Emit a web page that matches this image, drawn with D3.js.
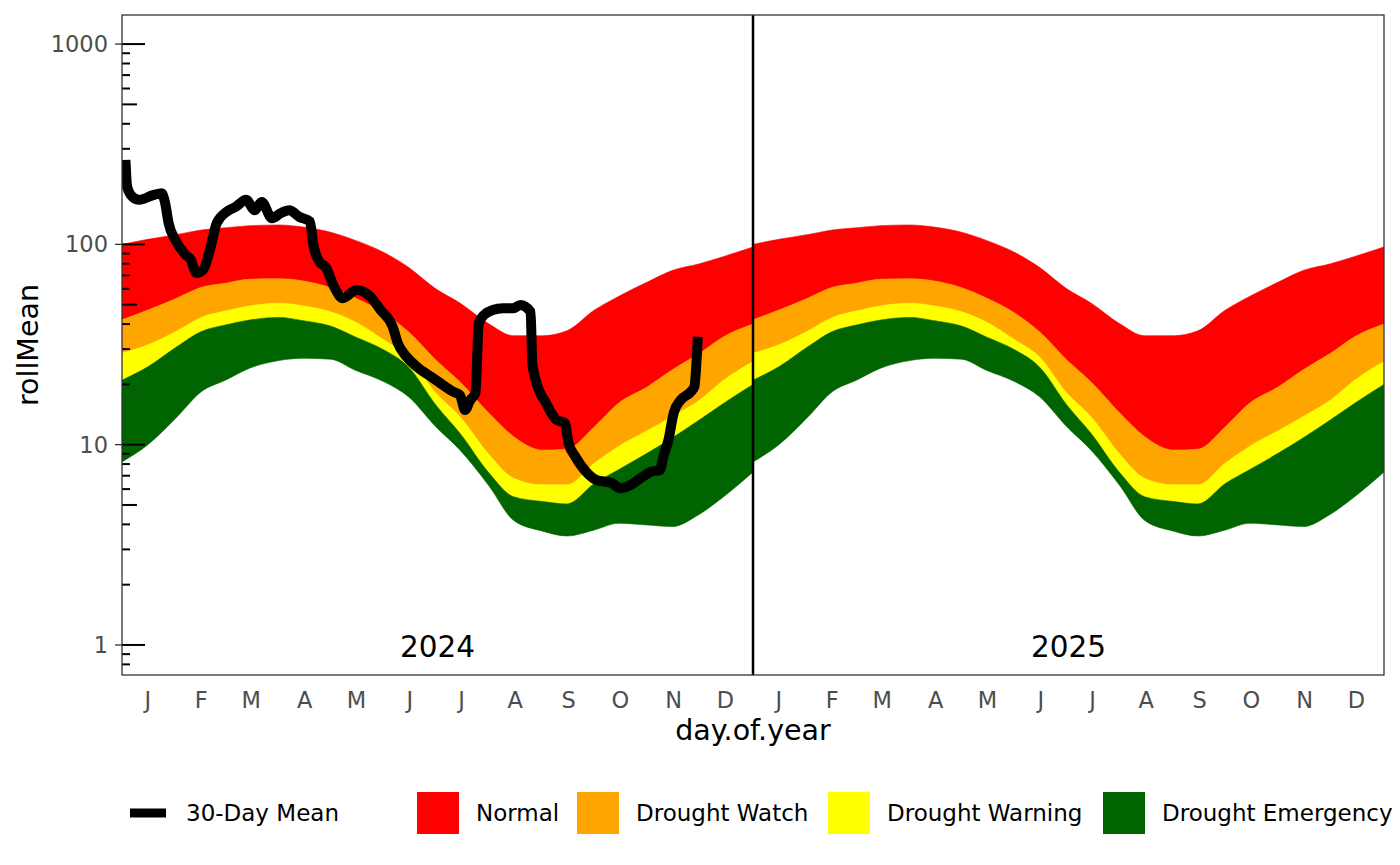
<!DOCTYPE html>
<html>
<head>
<meta charset="utf-8">
<script src="https://cdn.jsdelivr.net/npm/d3@7"></script>
<style>
  html, body { margin: 0; padding: 0; background: #ffffff; }
  svg { display: block; font-family: "DejaVu Sans", sans-serif; }
</style>
</head>
<body>
<svg id="chart" width="1400" height="865"></svg>
<script>
// ---------- data ----------
const years = [2024, 2025];
const monthLabels = ["J","F","M","A","M","J","J","A","S","O","N","D"];
const monthMidDays = [15, 46, 75, 106, 136, 167, 197, 228, 259, 289, 320, 350];
const yTickValues = [1, 10, 100, 1000];

// climatology band boundaries (day of year)
const bandDays       = [0, 15, 32, 46, 60, 74, 91, 105, 121, 135, 152, 166, 182, 196, 213, 227, 244, 258, 274, 288, 305, 319, 335, 349, 366];
const normalUpper    = [100, 106, 112, 118, 121, 124, 125, 122, 115, 105, 91, 77, 60, 51, 40, 35, 35, 37, 47, 55, 65, 74, 80, 87, 97];
const watchUpper     = [42, 47, 54, 61, 64, 67, 67.4, 65.7, 60.8, 54.2, 45.3, 36.7, 26.5, 20.6, 14.3, 11.0, 9.4, 9.5, 12.3, 16.1, 19.5, 23.6, 28.6, 34.6, 40];
const warningUpper   = [28.6, 31.5, 37.0, 43.2, 46.5, 49.3, 50.8, 49.3, 46.1, 41.1, 33.3, 27.5, 18.1, 13.8, 8.9, 6.8, 6.3, 6.3, 8.1, 9.8, 11.8, 13.8, 16.7, 21.0, 26];
const emergencyUpper = [21.0, 24.5, 30.9, 36.7, 39.6, 41.9, 43.2, 41.6, 39.1, 34.6, 29.7, 24.5, 15.8, 11.4, 7.2, 5.5, 5.2, 5.06, 6.4, 7.5, 9.1, 10.8, 13.3, 16.1, 20];
const emergencyLower = [8.2, 10.0, 13.8, 18.4, 21.0, 24.1, 26.3, 27.0, 26.7, 23.6, 20.6, 17.4, 12.3, 9.4, 6.2, 4.2, 3.7, 3.5, 3.75, 4.05, 3.97, 3.9, 4.5, 5.5, 7.3];

// 30-day mean (2024, day of year)
const meanDays   = [2, 3, 6, 10, 18, 23, 25, 27, 31, 37, 40, 43, 47, 51, 55, 61, 66, 72, 77, 81, 87, 92, 97, 103, 109, 111, 115, 118, 123, 128, 136, 144, 150, 157, 160, 165, 171, 179, 186, 192, 196, 199, 202, 205, 207, 210, 215, 221, 227, 231, 237, 238, 240, 246, 252, 257, 259, 263, 270, 275, 284, 289, 295, 302, 307, 312, 314, 317, 320, 324, 330, 332, 334];
const meanValues = [264, 194, 173, 167, 176, 180, 161, 128, 105, 88.5, 83.6, 72, 74.5, 93.8, 128, 146, 154, 167, 148, 163, 135, 143, 148, 137, 130, 99.3, 80.7, 77.4, 61.5, 53.8, 59.2, 54.8, 47.0, 38.8, 32.1, 27.5, 24.5, 21.9, 19.9, 18.4, 17.7, 14.9, 16.7, 18.1, 40.4, 44.4, 47.0, 48.0, 48.0, 49.8, 46.1, 25.5, 21.0, 16.1, 13.3, 12.8, 10.2, 8.7, 7.2, 6.67, 6.42, 6.06, 6.29, 6.92, 7.33, 7.47, 8.7, 10.6, 14.4, 16.7, 18.4, 19.5, 34.6];

const bandNames  = ["Normal", "Drought Watch", "Drought Warning", "Drought Emergency"];
const bandColors = ["#FF0000", "#FFA500", "#FFFF00", "#006400"];

// ---------- layout ----------
const svg = d3.select("#chart");
const L = 122, R = 1384, T = 15, B = 675;
const yearOffset = {2024: 0, 2025: 366};

const x = d3.scaleLinear().domain([0, 732]).range([L, R]);
const y = d3.scaleLog().domain([0.708, 1397]).range([B, T]);

const clip = svg.append("defs").append("clipPath").attr("id", "clip");
clip.append("rect").attr("x", L).attr("y", T).attr("width", R - L).attr("height", B - T);

const plot = svg.append("g").attr("clip-path", "url(#clip)");

// bands
const bandRows = bandDays.map((d, i) => ({
  d, top: [normalUpper[i], watchUpper[i], warningUpper[i], emergencyUpper[i]],
  bottom: [watchUpper[i], warningUpper[i], emergencyUpper[i], emergencyLower[i]]
}));

years.forEach(yr => {
  bandNames.forEach((name, k) => {
    const area = d3.area()
      .x(r => x(yearOffset[yr] + r.d))
      .y0(r => y(r.bottom[k]))
      .y1(r => y(r.top[k]))
      .curve(d3.curveMonotoneX);
    plot.append("path")
      .datum(bandRows)
      .attr("d", area)
      .attr("fill", bandColors[k])
      .attr("stroke", bandColors[k])
      .attr("stroke-width", 0.6);
  });
});

// 30-day mean line
const meanRows = meanDays.map((d, i) => ({d, v: meanValues[i]}));
plot.append("path")
  .datum(meanRows)
  .attr("d", d3.line().x(r => x(yearOffset[2024] + r.d)).y(r => y(r.v)).curve(d3.curveMonotoneX))
  .attr("fill", "none")
  .attr("stroke", "#000")
  .attr("stroke-width", 10)
  .attr("stroke-linejoin", "round")
  .attr("stroke-linecap", "butt");

// year separator
svg.append("line")
  .attr("x1", x(yearOffset[2025])).attr("x2", x(yearOffset[2025]))
  .attr("y1", T).attr("y2", B)
  .attr("stroke", "#000").attr("stroke-width", 2.5);

// year labels
years.forEach(yr => {
  svg.append("text")
    .attr("x", x(yearOffset[yr] + 183))
    .attr("y", 657)
    .attr("text-anchor", "middle")
    .attr("font-size", 29.5)
    .attr("fill", "#000")
    .text(yr);
});

// log ticks inside panel
const logTicks = [];
for (let e = -1; e <= 3; e++) {
  for (let m = 1; m <= 9; m++) {
    const v = m * Math.pow(10, e);
    if (v >= 0.708 && v <= 1397) logTicks.push({v, m});
  }
}
svg.append("g").selectAll("line").data(logTicks).join("line")
  .attr("x1", L)
  .attr("x2", d => d.m === 1 ? L + 23 : (d.m === 5 ? L + 15 : L + 8))
  .attr("y1", d => y(d.v)).attr("y2", d => y(d.v))
  .attr("stroke", "#000").attr("stroke-width", 2);

// panel border
svg.append("rect")
  .attr("x", L).attr("y", T).attr("width", R - L).attr("height", B - T)
  .attr("fill", "none").attr("stroke", "#333333").attr("stroke-width", 1.3);

// y axis
const yAxis = svg.append("g");
yAxis.selectAll("line").data(yTickValues).join("line")
  .attr("x1", L - 7).attr("x2", L)
  .attr("y1", d => y(d)).attr("y2", d => y(d))
  .attr("stroke", "#333333").attr("stroke-width", 1.3);
yAxis.selectAll("text").data(yTickValues).join("text")
  .attr("x", L - 14)
  .attr("y", d => y(d) + 8)
  .attr("text-anchor", "end")
  .attr("font-size", 22.5)
  .attr("fill", "#4d4d4d")
  .text(d => d3.format("d")(d));

// x axis month labels
const monthPos = [];
years.forEach(yr => monthMidDays.forEach((d, i) => monthPos.push({t: yearOffset[yr] + d, label: monthLabels[i]})));
svg.append("g").selectAll("text").data(monthPos).join("text")
  .attr("x", d => x(d.t))
  .attr("y", 708)
  .attr("text-anchor", "middle")
  .attr("font-size", 22.5)
  .attr("fill", "#4d4d4d")
  .text(d => d.label);

// axis titles
svg.append("text")
  .attr("x", (L + R) / 2).attr("y", 740)
  .attr("text-anchor", "middle")
  .attr("font-size", 28.5)
  .attr("fill", "#000")
  .text("day.of.year");
svg.append("text")
  .attr("transform", `translate(38,${(T + B) / 2}) rotate(-90)`)
  .attr("text-anchor", "middle")
  .attr("font-size", 28.5)
  .attr("fill", "#000")
  .text("rollMean");

// legend
const lg = svg.append("g");
lg.append("line").attr("x1", 130).attr("x2", 166).attr("y1", 813).attr("y2", 813)
  .attr("stroke", "#000").attr("stroke-width", 9);
lg.append("text").attr("x", 186).attr("y", 821).attr("font-size", 23).attr("fill", "#000").text("30-Day Mean");
const keyX = [417, 577, 828, 1103];
bandNames.forEach((name, k) => {
  lg.append("rect").attr("x", keyX[k]).attr("y", 792).attr("width", 42).attr("height", 42).attr("fill", bandColors[k]);
  lg.append("text").attr("x", keyX[k] + 59).attr("y", 821).attr("font-size", 23).attr("fill", "#000").text(name);
});
</script>
</body>
</html>
